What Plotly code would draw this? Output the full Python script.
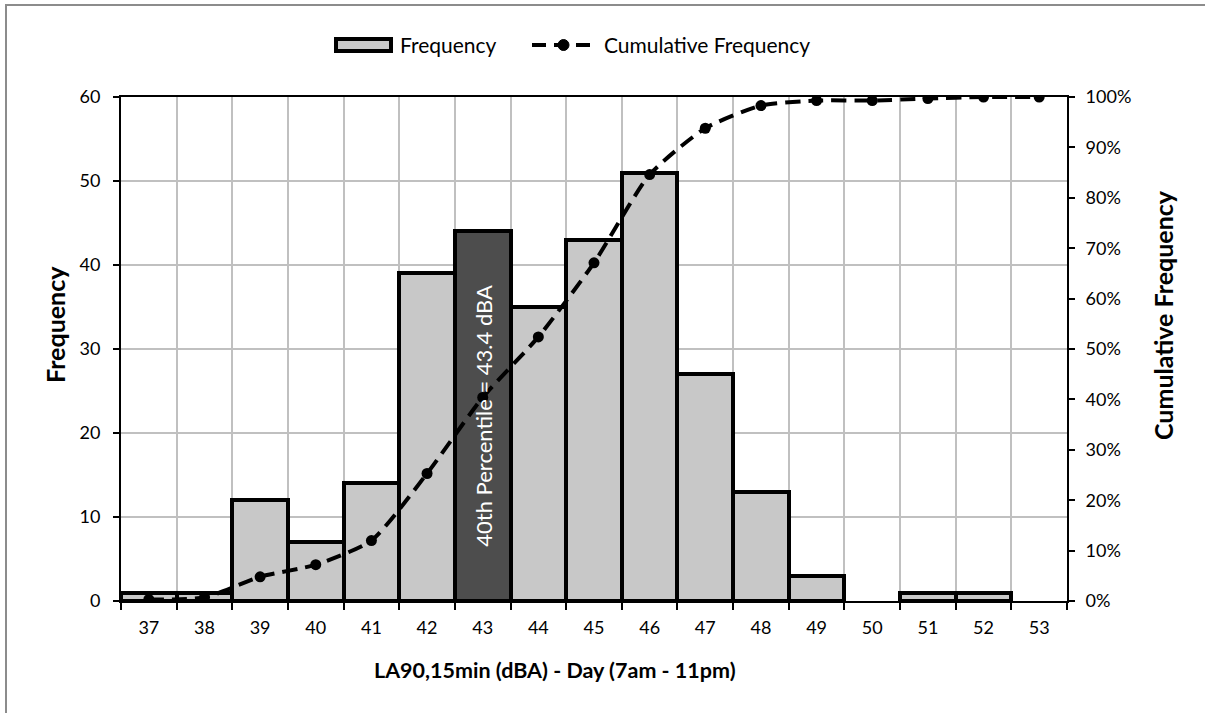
import plotly.graph_objects as go

# ---- data ----
levels = [37, 38, 39, 40, 41, 42, 43, 44, 45, 46, 47, 48, 49, 50, 51, 52, 53]
frequency = [1, 1, 12, 7, 14, 39, 44, 35, 43, 51, 27, 13, 3, 0, 1, 1, 0]
cumulative = [0.003, 0.007, 0.048, 0.072, 0.120, 0.253, 0.404, 0.524, 0.671,
              0.846, 0.938, 0.983, 0.993, 0.993, 0.997, 1.0, 1.0]
highlight_level = 43
percentile_text = "40th Percentile = 43.4 dBA"
y_ticks = [0, 10, 20, 30, 40, 50, 60]
y2_ticks = [0, .1, .2, .3, .4, .5, .6, .7, .8, .9, 1.0]

FONT = "Lato"
LIGHT = "#c8c8c8"
DARK = "#4d4d4d"
GRID = "#c0c0c0"
TICK_SIZE = 18
TITLE_SIZE = 21

bar_colors = [DARK if v == highlight_level else LIGHT for v in levels]
bar_line_w = [4 if f > 0 else 0 for f in frequency]

fig = go.Figure()
fig.add_trace(go.Bar(
    x=levels, y=frequency, width=1, name="Frequency",
    marker=dict(color=bar_colors, line=dict(color="black", width=bar_line_w)),
    yaxis="y", showlegend=False,
))
fig.add_trace(go.Scatter(
    x=levels, y=cumulative, name="Cumulative Frequency", yaxis="y2",
    mode="lines+markers", showlegend=False,
    line=dict(color="black", width=4, dash="15px,8px", shape="spline", smoothing=0.6),
    marker=dict(color="black", size=11, symbol="circle"),
))

W, H = 1205, 713
L, R, T, B = 121, 1205 - 1067, 97, 713 - 601
pw, ph = W - L - R, H - T - B

def px_x(x):
    return (x - L) / pw

def px_y(y):
    return (H - B - y) / ph

fig.update_layout(
    width=W, height=H,
    margin=dict(l=L, r=R, t=T, b=B, pad=0),
    paper_bgcolor="white", plot_bgcolor="white",
    font=dict(family=FONT, size=16, color="black"),
    bargap=0,
    showlegend=False,
    xaxis=dict(
        range=[36.5, 53.5], tickmode="array", tickvals=levels,
        ticktext=[str(v) for v in levels], ticks="", showgrid=False,
        showline=True, linecolor="black", linewidth=2, mirror=True,
        tickfont=dict(size=TICK_SIZE), zeroline=False, ticklabelstandoff=9,
        minor=dict(tickmode="linear", tick0=36.5, dtick=1, ticks="outside",
                   ticklen=7, tickcolor="black", tickwidth=2,
                   showgrid=True, gridcolor=GRID, gridwidth=2),
    ),
    yaxis=dict(
        range=[0, 60], tickvals=y_ticks, ticks="outside", ticklen=6,
        tickcolor="black", tickwidth=2, ticklabelstandoff=9,
        showline=True, linecolor="black", linewidth=2,
        showgrid=True, gridcolor=GRID, gridwidth=2, zeroline=False,
        tickfont=dict(size=TICK_SIZE),
    ),
    yaxis2=dict(
        range=[0, 1], tickvals=y2_ticks, tickformat=".0%", overlaying="y",
        side="right", ticks="outside", ticklen=6, tickcolor="black",
        tickwidth=2, showline=True, linecolor="black", linewidth=2,
        ticklabelstandoff=7,
        showgrid=False, zeroline=False, tickfont=dict(size=TICK_SIZE),
    ),
)

def note(text, x, y, angle=0, color="black", xanchor="center", xref="paper", size=TITLE_SIZE):
    fig.add_annotation(text=text, xref=xref, yref="paper", x=x, y=y,
                       xanchor=xanchor, yanchor="middle", textangle=angle,
                       showarrow=False,
                       font=dict(size=size, family=FONT, color=color))

# axis titles and percentile label
note("<b>LA90,15min (dBA) - Day (7am - 11pm)</b>", px_x(555), px_y(670), size=21.5)
note("<b>Frequency</b>", px_x(55), px_y(325), angle=-90, size=25)
note("<b>Cumulative Frequency</b>", px_x(1163), px_y(315), angle=-90, size=25)
note(percentile_text, highlight_level, px_y(416), angle=-90, color="white",
     xref="x", size=22)

# custom legend (top centre)
ly = px_y(45)
fig.add_shape(type="rect", xref="paper", yref="paper",
              x0=px_x(336), x1=px_x(391), y0=px_y(51), y1=px_y(39),
              fillcolor=LIGHT, line=dict(color="black", width=4))
note("Frequency", px_x(398), ly, xanchor="left")
fig.add_shape(type="line", xref="paper", yref="paper",
              x0=px_x(532), x1=px_x(596), y0=ly, y1=ly,
              line=dict(color="black", width=4, dash="14px,8px"))
fig.add_shape(type="circle", xref="paper", yref="paper",
              x0=px_x(558), x1=px_x(569), y0=px_y(50.5), y1=px_y(39.5),
              fillcolor="black", line=dict(color="black", width=1))
note("Cumulative Frequency", px_x(602), ly, xanchor="left")

# outer chart border
fig.add_shape(type="rect", xref="paper", yref="paper",
              x0=px_x(6), y0=px_y(5), x1=px_x(1215), y1=px_y(725),
              line=dict(color="#8c8c8c", width=2), layer="below")

fig.write_html("out.html", config={"displayModeBar": False},
               post_script="document.body.style.margin='0';")
